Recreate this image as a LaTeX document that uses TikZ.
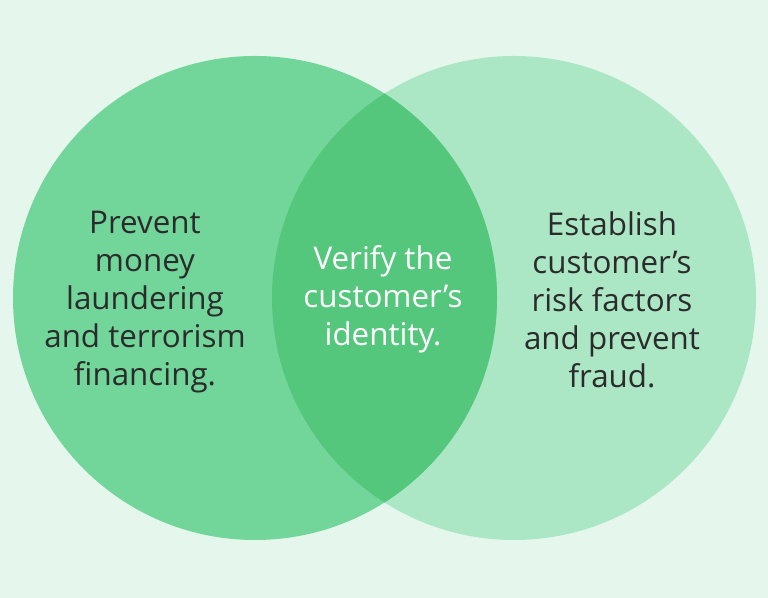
\documentclass[tikz,border=0pt]{standalone}
\usepackage{fontspec}
\setmainfont{Open Sans}
\usepackage{tikz}
\definecolor{mint bg}{HTML}{E5F7EC}
\definecolor{leaf green}{HTML}{72D69B}
\definecolor{pale green}{HTML}{ABE7C5}
\definecolor{deep green}{HTML}{55C77D}
\definecolor{ink}{HTML}{2B2B2B}
\tikzset{
	venn text/.style = {align=center, text=ink, font=\fontsize{23.5}{28.5}\selectfont},
}
\begin{document}
\begin{tikzpicture}[x=0.75pt, y=0.75pt]
			% background
			\fill[mint bg] (0, 0) rectangle (768, 598);
			\useasboundingbox (0, 0) rectangle (768, 598);
			% circle for right
			\fill[pale green] (514, 300) circle (242);
			% circle for left
			\fill[leaf green] (255, 300) circle (242);
			% overlap
			\begin{scope}
				\clip (255, 300) circle (242);
				\fill[deep green] (514, 300) circle (242);
			\end{scope}
			% labels
			\node[venn text] (prevent) at (145, 296) {Prevent\\money\\laundering\\and terrorism\\financing.};
			\node[venn text, text=white] (verify) at (383, 299) {Verify the\\customer’s\\identity.};
			\node[venn text] (establish) at (612, 298) {Establish\\customer’s\\risk factors\\and prevent\\fraud.};
		\end{tikzpicture}
\end{document}
